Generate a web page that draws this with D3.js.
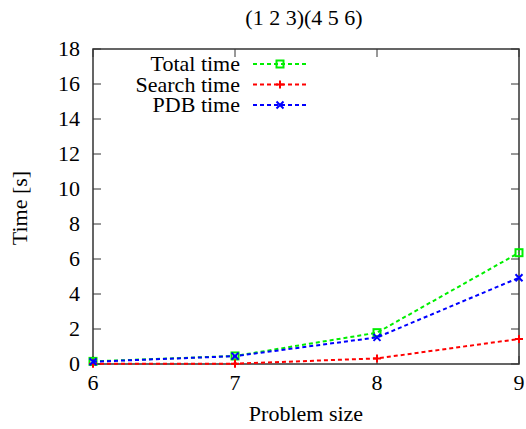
<!DOCTYPE html>
<html><head><meta charset="utf-8">
<script src="https://cdn.jsdelivr.net/npm/d3@7"></script>
<style>body{margin:0;background:#fff}svg{display:block}</style>
</head><body><svg id="c" width="526" height="429"></svg>
<script>
const sizes = [6, 7, 8, 9];
const totalTime = [0.15, 0.46, 1.79, 6.36];
const searchTime = [0.01, 0.02, 0.32, 1.43];
const pdbTime = [0.13, 0.45, 1.52, 4.93];
const yTicks = [0, 2, 4, 6, 8, 10, 12, 14, 16, 18];
const seriesNames = ["Total time", "Search time", "PDB time"];
const colors = ["#00ee00", "#ff0000", "#0000ff"];
const markers = ["square", "plus", "cross"];
const series = [totalTime, searchTime, pdbTime];

const svg = d3.select("#c");
const m = {l: 93, r: 519, t: 49, b: 364};
const x = d3.scaleLinear().domain([6, 9]).range([m.l, m.r]);
const y = d3.scaleLinear().domain([0, 18]).range([m.b, m.t]);
const axisColor = "#333";
const fs = 22;
const FONT = '"Liberation Serif"';
function txt(sel) { return sel.append("text").style("font-family", FONT).attr("font-size", fs).attr("fill", "#000"); }

const g = svg.append("g");
yTicks.forEach(v => {
  g.append("line").attr("x1", m.l).attr("x2", m.l + 8).attr("y1", y(v)).attr("y2", y(v)).attr("stroke", axisColor);
  g.append("line").attr("x1", m.r).attr("x2", m.r - 8).attr("y1", y(v)).attr("y2", y(v)).attr("stroke", axisColor);
  txt(g).attr("x", m.l - 13).attr("y", y(v)).attr("dy", "0.33em").attr("text-anchor", "end").text(v);
});
sizes.forEach(v => {
  g.append("line").attr("x1", x(v)).attr("x2", x(v)).attr("y1", m.b).attr("y2", m.b - 8).attr("stroke", axisColor);
  g.append("line").attr("x1", x(v)).attr("x2", x(v)).attr("y1", m.t).attr("y2", m.t + 8).attr("stroke", axisColor);
  txt(g).attr("x", x(v)).attr("y", 390).attr("text-anchor", "middle").text(v);
});
g.append("rect").attr("x", m.l).attr("y", m.t).attr("width", m.r - m.l).attr("height", m.b - m.t)
  .attr("fill", "none").attr("stroke", axisColor).attr("stroke-width", 1.5);

txt(svg).attr("x", 304).attr("y", 25).attr("text-anchor", "middle").text("(1 2 3)(4 5 6)");
txt(svg).attr("x", 306).attr("y", 421).attr("text-anchor", "middle").text("Problem size");
txt(svg).attr("transform", "translate(27,208) rotate(-90)").attr("text-anchor", "middle").text("Time [s]");

function drawMarker(sel, type, cx, cy, col) {
  if (type === "square") {
    sel.append("rect").attr("x", cx - 3.5).attr("y", cy - 3.5).attr("width", 7).attr("height", 7)
      .attr("fill", "none").attr("stroke", col).attr("stroke-width", 2);
  } else if (type === "plus") {
    sel.append("path").attr("d", `M${cx-4},${cy}H${cx+4}M${cx},${cy-4}V${cy+4}`).attr("stroke", col).attr("stroke-width", 2);
  } else {
    sel.append("path").attr("d", `M${cx-3.5},${cy-3.5}L${cx+3.5},${cy+3.5}M${cx-3.5},${cy+3.5}L${cx+3.5},${cy-3.5}`).attr("stroke", col).attr("stroke-width", 2);
  }
}

const line = d3.line().x((d, i) => x(sizes[i])).y(d => y(d));
const plot = svg.append("g");
series.forEach((s, k) => {
  plot.append("path").datum(s).attr("d", line).attr("fill", "none").attr("stroke", colors[k])
    .attr("stroke-width", 2).attr("stroke-dasharray", "4,3");
  s.forEach((v, i) => drawMarker(plot, markers[k], x(sizes[i]), y(v), colors[k]));
});

const lg = svg.append("g");
seriesNames.forEach((n, k) => {
  const ly = 64 + k * 20.5;
  txt(lg).attr("x", 240).attr("y", ly).attr("dy", "0.33em").attr("text-anchor", "end").text(n);
  lg.append("line").attr("x1", 253).attr("x2", 308).attr("y1", ly).attr("y2", ly).attr("stroke", colors[k])
    .attr("stroke-width", 2).attr("stroke-dasharray", "4,3");
  drawMarker(lg, markers[k], 280, ly, colors[k]);
});
</script></body></html>
